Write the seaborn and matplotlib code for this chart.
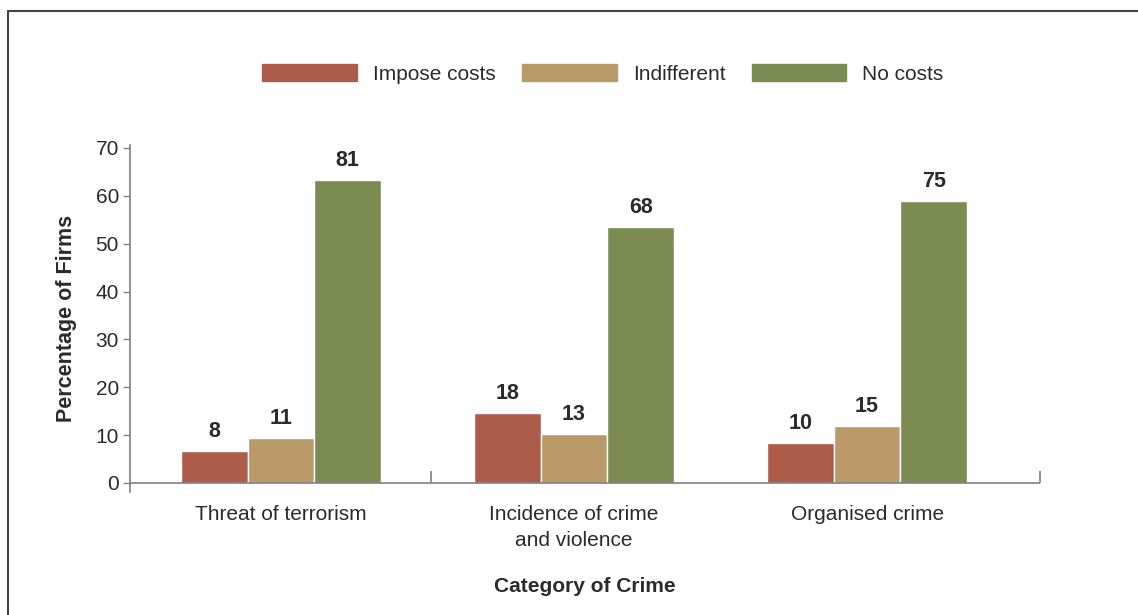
import matplotlib
matplotlib.use("Agg")
import matplotlib.pyplot as plt
import seaborn as sns
import pandas as pd
from matplotlib.lines import Line2D

# Data
categories = ["Threat of terrorism", "Incidence of crime\nand violence", "Organised crime"]
series = ["Impose costs", "Indifferent", "No costs"]
# bar heights as drawn on the axis
impose_costs = [6.7, 14.6, 8.4]
indifferent = [9.4, 10.2, 11.9]
no_costs = [63.4, 53.5, 58.9]
# value labels printed above the bars
impose_labels = ["8", "18", "10"]
indifferent_labels = ["11", "13", "15"]
no_costs_labels = ["81", "68", "75"]
y_ticks = [0, 10, 20, 30, 40, 50, 60, 70]

colors = ["#AD5C4A", "#BB9A6A", "#7B8B52"]

df = pd.DataFrame({
    "category": categories * 3,
    "series": [series[0]] * 3 + [series[1]] * 3 + [series[2]] * 3,
    "value": impose_costs + indifferent + no_costs,
})

sns.set_theme(style="white")
plt.rcParams["font.family"] = ["Liberation Sans", "DejaVu Sans"]
text_color = "#2b2b2b"
axis_color = "#808080"

fig = plt.figure(figsize=(11.38, 6.15), dpi=100)
ax = fig.add_axes([130 / 1138, 1 - 491.6 / 615, 910 / 1138, 346.5 / 615])

sns.barplot(data=df, x="category", y="value", hue="series", palette=colors,
            order=categories, hue_order=series, width=0.683, gap=0,
            saturation=1, ax=ax, legend=False)

# value labels above bars
for container, labs in zip(ax.containers, [impose_labels, indifferent_labels, no_costs_labels]):
    for bar, lab in zip(container, labs):
        ax.annotate(lab, (bar.get_x() + bar.get_width() / 2, bar.get_height()),
                    xytext=(0, 6.5), textcoords="offset points", ha="center", va="bottom",
                    fontsize=15.5, fontweight="bold", color=text_color)

ax.set_xlim(-0.515, 2.59)
ax.set_ylim(-1.8, 70.6)
ax.set_yticks(y_ticks)
ax.set_yticklabels([str(t) for t in y_ticks], fontsize=15, color=text_color)
ax.tick_params(axis="y", left=True, length=5, width=1, color=axis_color, pad=3)
ax.tick_params(axis="x", bottom=False, length=0, pad=10, labelsize=15, labelcolor=text_color)
for lab in ax.get_xticklabels():
    lab.set_linespacing(1.46)

for s in ["top", "right", "bottom"]:
    ax.spines[s].set_visible(False)
ax.spines["left"].set_color(axis_color)
ax.spines["left"].set_linewidth(1.2)

# baseline at zero with separator ticks
ax.axhline(0, color=axis_color, lw=1.2, zorder=3)
ax.vlines([0.512, 2.59], 0, 2.5, color=axis_color, lw=1.2, zorder=3, clip_on=False)

ax.set_xlabel("Category of Crime", fontsize=15, fontweight="bold", color=text_color, labelpad=19)
ax.set_ylabel("Percentage of Firms", fontsize=15.5, fontweight="bold", color=text_color, labelpad=13)

handles = [plt.Rectangle((0, 0), 1, 1, color=c) for c in colors]
fig.legend(handles, series, loc="center", bbox_to_anchor=(603 / 1138, 1 - 74 / 615), ncol=3,
           frameon=False, fontsize=15, handlelength=4.55, handleheight=0.9,
           handletextpad=0.77, columnspacing=1.25, labelcolor=text_color)

# outer frame (top and left)
fig.add_artist(Line2D([7.5 / 1138, 1], [1 - 10.5 / 615] * 2, transform=fig.transFigure,
                      color="#444444", lw=1.5))
fig.add_artist(Line2D([7.5 / 1138] * 2, [0, 1 - 10.5 / 615], transform=fig.transFigure,
                      color="#444444", lw=1.5))

fig.savefig("out.png", dpi=100)
